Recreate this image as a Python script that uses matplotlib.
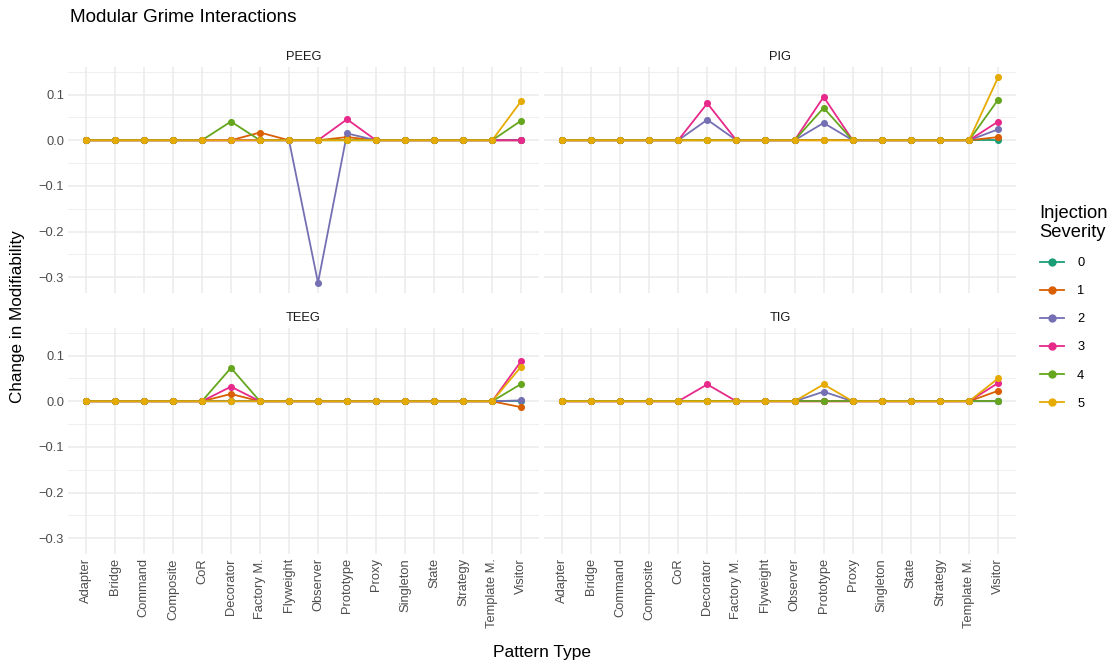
import numpy as np
import matplotlib
matplotlib.use('Agg')
import matplotlib.pyplot as plt
from matplotlib.lines import Line2D

plt.rcParams['font.family'] = ['Liberation Sans', 'DejaVu Sans']
plt.rcParams['axes.unicode_minus'] = True

patterns = ['Adapter', 'Bridge', 'Command', 'Composite', 'CoR', 'Decorator',
            'Factory M.', 'Flyweight', 'Observer', 'Prototype', 'Proxy',
            'Singleton', 'State', 'Strategy', 'Template M.', 'Visitor']
severities = ['0', '1', '2', '3', '4', '5']
colors = ['#1B9E77', '#D95F02', '#7570B3', '#E7298A', '#66A61E', '#E6AB02']

# nonzero values only: {panel: {severity: {pattern: value}}}
peeg = {
    '1': {'Factory M.': 0.017, 'Prototype': 0.007},
    '2': {'Observer': -0.312, 'Prototype': 0.015},
    '3': {'Prototype': 0.046},
    '4': {'Decorator': 0.041, 'Visitor': 0.043},
    '5': {'Visitor': 0.086},
}
pig = {
    '1': {'Visitor': 0.007},
    '2': {'Decorator': 0.045, 'Prototype': 0.038, 'Visitor': 0.024},
    '3': {'Decorator': 0.081, 'Prototype': 0.095, 'Visitor': 0.041},
    '4': {'Prototype': 0.071, 'Visitor': 0.089},
    '5': {'Visitor': 0.138},
}
teeg = {
    '1': {'Decorator': 0.016, 'Visitor': -0.013},
    '2': {'Visitor': 0.002},
    '3': {'Decorator': 0.032, 'Visitor': 0.088},
    '4': {'Decorator': 0.073, 'Visitor': 0.038},
    '5': {'Visitor': 0.076},
}
tig = {
    '1': {'Visitor': 0.023},
    '2': {'Prototype': 0.021},
    '3': {'Decorator': 0.037, 'Visitor': 0.040},
    '5': {'Prototype': 0.037, 'Visitor': 0.050},
}
panels = [('PEEG', peeg), ('PIG', pig), ('TEEG', teeg), ('TIG', tig)]

W, H = 1114, 669
fig = plt.figure(figsize=(W / 100, H / 100), dpi=100)

# panel boxes in pixels: (left, top, right, bottom)
boxes = [(68.4, 67, 538.6, 293), (544.4, 67, 1015.6, 293),
         (68.4, 328, 538.6, 554), (544.4, 328, 1015.6, 554)]

x = np.arange(1, len(patterns) + 1)
ymin, ymax = -0.312, 0.138
pad = 0.05 * (ymax - ymin)

for i, ((name, data), (l, t, r, b)) in enumerate(zip(panels, boxes)):
    ax = fig.add_axes([l / W, 1 - b / H, (r - l) / W, (b - t) / H])
    for s, c in zip(severities, colors):
        vals = [data.get(s, {}).get(p, 0.0) for p in patterns]
        ax.plot(x, vals, color=c, lw=1.3, zorder=3)
    for s, c in zip(severities, colors):
        vals = [data.get(s, {}).get(p, 0.0) for p in patterns]
        ax.scatter(x, vals, color=c, s=26, zorder=4, linewidths=0)
    ax.set_xlim(0.4, len(patterns) + 0.6)
    ax.set_ylim(ymin - pad, ymax + pad)
    ax.set_xticks(x)
    ax.set_yticks([-0.3, -0.2, -0.1, 0.0, 0.1])
    ax.set_yticks([-0.25, -0.15, -0.05, 0.05, 0.15], minor=True)
    ax.grid(True, which='major', color='#EBEBEB', lw=1.1, zorder=0)
    ax.grid(True, which='minor', axis='y', color='#EBEBEB', lw=0.55, zorder=0)
    ax.set_axisbelow(True)
    for sp in ax.spines.values():
        sp.set_visible(False)
    ax.tick_params(which='both', length=0, colors='#4D4D4D', labelsize=9.3, pad=3)
    if i >= 2:
        ax.set_xticklabels(patterns, rotation=90)
    else:
        ax.set_xticklabels([])
    if i % 2 == 0:
        ax.set_yticklabels(['\u22120.3', '\u22120.2', '\u22120.1', '0.0', '0.1'])
    else:
        ax.set_yticklabels([])
    ax.set_title(name, fontsize=9.3, color='#1A1A1A', pad=5)

fig.text(70 / W, 1 - 18 / H, 'Modular Grime Interactions', fontsize=13.6,
         ha='left', va='center', color='black')
fig.text(542 / W, 1 - 653 / H, 'Pattern Type', fontsize=12.5, ha='center', va='center')
fig.text(18 / W, 1 - 317 / H, 'Change in Modifiability', fontsize=12.3, ha='center',
         va='center', rotation=90)

handles = [Line2D([0], [0], color=c, lw=1.3, marker='o', markersize=5) for c in colors]
leg = fig.legend(handles, severities, loc='upper left', bbox_to_anchor=(1028 / W, 1 - 193 / H),
                 frameon=False, title='Injection\nSeverity', fontsize=9.3,
                 title_fontsize=13.2, handlelength=1.9, labelspacing=1.24,
                 handletextpad=1.0, alignment='left')

fig.savefig('out.png', dpi=100)
